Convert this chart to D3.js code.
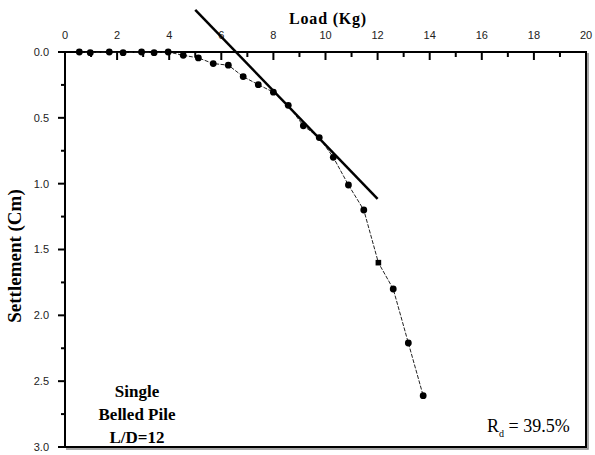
<!DOCTYPE html>
<html>
<head>
<meta charset="utf-8">
<script src="https://cdn.jsdelivr.net/npm/d3@7"></script>
<style>
  body { margin: 0; background: #fff; }
  svg { display: block; }
</style>
</head>
<body>
<div id="chart"></div>
<script>
var width = 595, height = 455;
var margin = {top: 52, right: 9, bottom: 8, left: 65};

// load test readings (Load in Kg, Settlement in Cm)
var loads = [0.55, 0.97, 1.70, 2.23, 2.94, 3.42, 3.96, 4.54, 5.12, 5.69, 6.27, 6.84, 7.42, 8.00, 8.57, 9.15, 9.76, 10.30, 10.88, 11.47, 12.03, 12.60, 13.18, 13.75];
var settlements = [0.0, 0.005, 0.0, 0.005, 0.0, 0.005, 0.0, 0.025, 0.045, 0.088, 0.10, 0.187, 0.248, 0.305, 0.405, 0.56, 0.65, 0.80, 1.01, 1.20, 1.60, 1.80, 2.21, 2.61];
var markerShapes = ["c","c","c","c","c","c","c","c","c","c","c","c","c","c","c","c","c","c","c","c","s","c","c","c"];

// tangent line end points
var tangentLoad = [5.0, 12.0];
var tangentSettle = [-0.32, 1.115];

var xTicks = [0, 2, 4, 6, 8, 10, 12, 14, 16, 18, 20];
var yTicks = [0.0, 0.5, 1.0, 1.5, 2.0, 2.5, 3.0];

var w = width - margin.left - margin.right,
    h = height - margin.top - margin.bottom;

var x = d3.scaleLinear().domain([0, 20]).range([0, w]);
var y = d3.scaleLinear().domain([0, 3]).range([0, h]);

var svg = d3.select("#chart").append("svg")
    .attr("width", width)
    .attr("height", height);

var g = svg.append("g")
    .attr("transform", "translate(" + margin.left + "," + margin.top + ")");

// frame shadow on right and bottom
g.append("path")
    .attr("d", "M" + (w + 2) + ",1V" + (h + 2) + "H1")
    .attr("fill", "none")
    .attr("stroke", "#888")
    .attr("stroke-width", 1.5);

g.append("rect")
    .attr("width", w)
    .attr("height", h)
    .attr("fill", "none")
    .attr("stroke", "#000")
    .attr("stroke-width", 2);

// top axis: ticks pointing inward
var xMinor = d3.range(1, 20, 2);
g.selectAll(".xmaj").data(xTicks).enter().append("line")
    .attr("x1", function(d) { return x(d); })
    .attr("x2", function(d) { return x(d); })
    .attr("y1", 0).attr("y2", 8)
    .attr("stroke", "#000").attr("stroke-width", 2);
g.selectAll(".xmin").data(xMinor).enter().append("line")
    .attr("x1", function(d) { return x(d); })
    .attr("x2", function(d) { return x(d); })
    .attr("y1", 0).attr("y2", 5)
    .attr("stroke", "#000").attr("stroke-width", 2);
g.selectAll(".xlab").data(xTicks).enter().append("text")
    .attr("x", function(d) { return x(d); })
    .attr("y", -13)
    .attr("text-anchor", "middle")
    .attr("font-family", "Liberation Sans, Arial, sans-serif")
    .attr("font-size", 11)
    .attr("fill", "#222")
    .text(function(d) { return d; });

// left axis: ticks pointing outward
var yMinor = d3.range(0.25, 3, 0.5);
g.selectAll(".ymaj").data(yTicks).enter().append("line")
    .attr("y1", function(d) { return y(d); })
    .attr("y2", function(d) { return y(d); })
    .attr("x1", 0).attr("x2", -7)
    .attr("stroke", "#000").attr("stroke-width", 2);
g.selectAll(".ymin").data(yMinor).enter().append("line")
    .attr("y1", function(d) { return y(d); })
    .attr("y2", function(d) { return y(d); })
    .attr("x1", 0).attr("x2", -4)
    .attr("stroke", "#000").attr("stroke-width", 2);
g.selectAll(".ylab").data(yTicks).enter().append("text")
    .attr("x", -16)
    .attr("y", function(d) { return y(d); })
    .attr("dy", "0.35em")
    .attr("text-anchor", "end")
    .attr("font-family", "Liberation Sans, Arial, sans-serif")
    .attr("font-size", 11)
    .attr("fill", "#222")
    .text(function(d) { return d.toFixed(1); });

// axis titles
svg.append("text")
    .attr("x", 328)
    .attr("y", 24)
    .attr("text-anchor", "middle")
    .attr("font-family", "Liberation Serif, Times New Roman, serif")
    .attr("font-weight", "bold")
    .attr("font-size", 16)
    .attr("letter-spacing", 0.8)
    .text("Load (Kg)");

svg.append("text")
    .attr("transform", "translate(21,256) rotate(-90)")
    .attr("text-anchor", "middle")
    .attr("font-family", "Liberation Serif, Times New Roman, serif")
    .attr("font-weight", "bold")
    .attr("font-size", 19)
    .text("Settlement (Cm)");

// data
var pts = loads.map(function(d, i) { return {x: d, y: settlements[i], s: markerShapes[i]}; });

var line = d3.line()
    .x(function(d) { return x(d.x); })
    .y(function(d) { return y(d.y); });

g.append("path")
    .datum(pts)
    .attr("d", line)
    .attr("fill", "none")
    .attr("stroke", "#222")
    .attr("stroke-width", 1)
    .attr("stroke-dasharray", "4,1.5");

g.selectAll(".dot").data(pts.filter(function(d) { return d.s == "c"; })).enter().append("circle")
    .attr("cx", function(d) { return x(d.x); })
    .attr("cy", function(d) { return y(d.y); })
    .attr("r", 3.4)
    .attr("fill", "#000");

g.selectAll(".sq").data(pts.filter(function(d) { return d.s == "s"; })).enter().append("rect")
    .attr("x", function(d) { return x(d.x) - 2.8; })
    .attr("y", function(d) { return y(d.y) - 2.8; })
    .attr("width", 5.6)
    .attr("height", 5.6)
    .attr("fill", "#000");

// tangent line
svg.append("line")
    .attr("x1", margin.left + x(tangentLoad[0]))
    .attr("y1", margin.top + y(tangentSettle[0]))
    .attr("x2", margin.left + x(tangentLoad[1]))
    .attr("y2", margin.top + y(tangentSettle[1]))
    .attr("stroke", "#000")
    .attr("stroke-width", 2.5);

// annotations
var note = ["Single", "Belled Pile", "L/D=12"];
svg.selectAll(".note").data(note).enter().append("text")
    .attr("x", 137)
    .attr("y", function(d, i) { return 397 + i * 23; })
    .attr("text-anchor", "middle")
    .attr("font-family", "Liberation Serif, Times New Roman, serif")
    .attr("font-weight", "bold")
    .attr("font-size", 17)
    .text(function(d) { return d; });

var rd = svg.append("text")
    .attr("x", 487)
    .attr("y", 432)
    .attr("font-family", "Liberation Serif, Times New Roman, serif")
    .attr("font-size", 18);
rd.append("tspan").text("R");
rd.append("tspan").attr("font-size", 10).attr("dy", 5).text("d");
rd.append("tspan").attr("dy", -5).text(" = 39.5%");
</script>
</body>
</html>
